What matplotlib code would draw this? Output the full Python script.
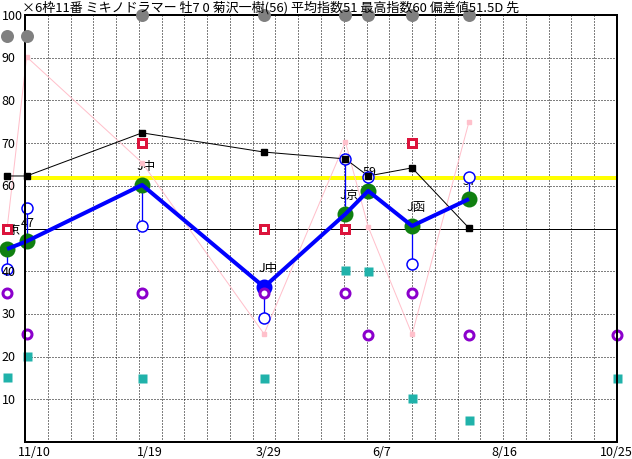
import matplotlib
matplotlib.use('Agg')
import matplotlib.pyplot as plt
import matplotlib.transforms as mtransforms
import numpy as np

plt.rcParams['font.family'] = ['Noto Sans CJK JP', 'DejaVu Sans']

# ---------------- data ----------------
title = "×6枠11番 ミキノドラマー 牡7 0 菊沢一樹(56) 平均指数51 最高指数60 偏差値51.5D 先"

# race positions in days (axis: day 0 = left edge, day 364 = right edge)
race_day = [-11, 1, 72, 147, 197, 211, 238, 273]
course = ["J京", "47", "J中", "J中", "J京", "59", "J函", "57"]
main_index = [45.2, 47.0, 60.2, 36.3, 53.4, 58.8, 50.6, 56.9]
main_is_blue = [False, False, False, True, False, False, False, False]
sub_index = [40.5, 54.8, 50.6, 29.0, 66.3, 62.0, 41.7, 62.0]
black_index = [62.3, 62.3, 72.4, 67.9, 66.3, 62.3, 64.2, 50.1]
red_index = [50, np.nan, 70, 50, 50, np.nan, 70, np.nan]
pink_index = [50, 90.2, 65.4, 25.3, 70.3, 50.4, 25.2, 75.0]
gray_index = [95, 95, 100, 100, 100, 100, 100, 100]

# last entry (right edge) has only purple / teal marks
extra_day = [-11, 1, 72, 147, 197, 211, 238, 273, 364]
purple_index = [35, 25.3, 35, 35, 35, 25, 35, 25, 25]
teal_index = [15.2, 20.1, 15, 15, 40.3, 40, 10.3, 5.2, 15]

yellow_level = 61.8
base_level = 50

tick_days = [5.5, 77, 149.5, 219, 294.5, 363.5]
tick_labels = ["11/10", "1/19", "3/29", "6/7", "8/16", "10/25"]
grid_days = list(range(14, 364, 14))
y_ticks = [10, 20, 30, 40, 50, 60, 70, 80, 90, 100]

# ---------------- figure ----------------
W, H = 632, 460
fig = plt.figure(figsize=(W / 100, H / 100), dpi=100)
ax = fig.add_axes([25 / W, 17 / H, 592 / W, 427 / H])
ax.set_xlim(0, 364)
ax.set_ylim(0, 100)

px = 0.72  # one pixel in points

# grid
for g in grid_days:
    ax.axvline(g, color='black', lw=px, ls=(0, (1, 2)), zorder=1)
for yv in y_ticks[:-1]:
    if yv == base_level:
        continue
    ax.axhline(yv, color='black', lw=px, ls=(0, (1, 2)), zorder=1)
ax.axhline(base_level, color='black', lw=px, zorder=1.5)

# course labels (below the yellow line and markers)
for d, m, c in zip(race_day, main_index, course):
    ax.annotate(c, (d, m), xytext=(-6 * px, 19 * px), textcoords='offset points',
                ha='left', va='center', fontsize=9, color='black',
                annotation_clip=False, zorder=2.9)

ax.axhline(yellow_level, color='#FFFF00', lw=4 * px, zorder=3)

# pink line
ax.plot(race_day, pink_index, color='#FFC0CB', lw=px, marker='s', ms=5 * px,
        mec='#FFC0CB', mfc='#FFC0CB', clip_on=False, zorder=3.2)

# teal squares
ax.plot(extra_day, teal_index, ls='none', marker='s', ms=9 * px,
        color='#20B2AA', mec='none', clip_on=False, zorder=3.5)

# black line
ax.plot(race_day, black_index, color='black', lw=px, clip_on=False, zorder=3.7)

# blue thin verticals
for d, a, b in zip(race_day, main_index, sub_index):
    ax.plot([d, d], [a, b], color='#0000FF', lw=1.3 * px, clip_on=False, zorder=4)

# main markers
for d, m, isb in zip(race_day, main_index, main_is_blue):
    ax.plot([d], [m], ls='none', marker='o', ms=16 * px,
            color='#0000FF' if isb else '#108010', mec='none',
            clip_on=False, zorder=4.5)

# blue thick line
ax.plot(race_day, main_index, color='#0000FF', lw=4 * px, clip_on=False,
        zorder=4.8, solid_capstyle='butt')

# blue open circles
ax.plot(race_day, sub_index, ls='none', marker='o', ms=11 * px, mfc='white',
        mec='#0000FF', mew=1.5 * px, clip_on=False, zorder=5)

# y labels, left aligned at the figure edge
ytrans = mtransforms.blended_transform_factory(fig.transFigure, ax.transData)
for v in y_ticks:
    ax.text(1.5 / W, v, str(v), transform=ytrans, ha='left', va='center',
            fontsize=9, clip_on=False, zorder=5.02)

# red squares
ax.plot(race_day, red_index, ls='none', marker='s', ms=8 * px, mfc='white',
        mec='#DC143C', mew=3 * px, clip_on=False, zorder=5.05)

# black squares on top
ax.plot(race_day, black_index, ls='none', marker='s', ms=6 * px,
        color='black', clip_on=False, zorder=5.2)

# purple circles
ax.plot(extra_day, purple_index, ls='none', marker='o', ms=9 * px, mfc='white',
        mec='#8B00CC', mew=3 * px, clip_on=False, zorder=5.4)

# gray dots
ax.plot(race_day, gray_index, ls='none', marker='o', ms=13 * px,
        color='#808080', mec='none', clip_on=False, zorder=6)

# axes styling
for s in ax.spines.values():
    s.set_linewidth(2 * px)
    s.set_color('black')
    s.set_zorder(5.9)
ax.set_xticks(tick_days)
ax.set_xticklabels(tick_labels)
ax.set_yticks([])
ax.tick_params(length=0, labelsize=9, colors='black')
ax.tick_params(axis='x', pad=2)

fig.text(22 / W, 1 - 8 / H, title, ha='left', va='center', fontsize=9.4)

fig.savefig('out.png', dpi=100)
